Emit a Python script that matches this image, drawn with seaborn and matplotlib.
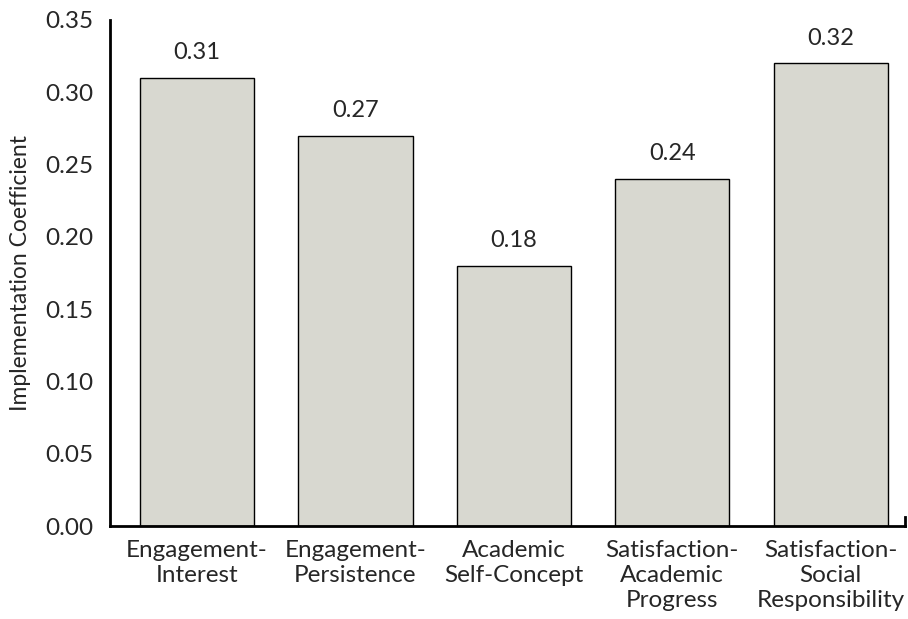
import matplotlib
matplotlib.use("Agg")
import matplotlib.pyplot as plt
import seaborn as sns
import pandas as pd

categories = ["Engagement-\nInterest", "Engagement-\nPersistence", "Academic\nSelf-Concept",
              "Satisfaction-\nAcademic\nProgress", "Satisfaction-\nSocial\nResponsibility"]
values = [0.31, 0.27, 0.18, 0.24, 0.32]
yticks = [0.00, 0.05, 0.10, 0.15, 0.20, 0.25, 0.30, 0.35]

sns.set_style("white")
plt.rcParams['font.family'] = ['Lato', 'DejaVu Sans']

df = pd.DataFrame({"cat": categories, "val": values})
fig = plt.figure(figsize=(9.08, 6.19), dpi=100)
ax = fig.add_axes([0.121, 0.150, 0.876, 0.818])
sns.barplot(data=df, x="cat", y="val", color="#d8d8d0", edgecolor="black",
            linewidth=1.0, width=0.72, saturation=1, ax=ax)
for i, v in enumerate(values):
    ax.text(i, v + 0.010, f"{v:.2f}", ha="center", va="bottom", fontsize=17)

ax.set_ylim(0, 0.35)
ax.set_xlim(-0.55, 4.47)
ax.set_yticks(yticks)
ax.set_yticklabels([f"{t:.2f}" for t in yticks], fontsize=17.5)
ax.tick_params(axis="y", length=8, width=2, direction="out", color="black", pad=4)
ax.tick_params(axis="x", length=0, pad=10)
for lbl in ax.get_xticklabels():
    lbl.set_fontsize(17.5)
    lbl.set_linespacing(1.22)
ax.set_xlabel("")
ax.set_ylabel("Implementation Coefficient", fontsize=16.5, labelpad=10)
ax.spines["top"].set_visible(False)
for s in ["left", "bottom", "right"]:
    ax.spines[s].set_linewidth(2)
    ax.spines[s].set_color("black")
ax.spines["right"].set_bounds(0, 0.006)
fig.savefig("out.png", dpi=100)
